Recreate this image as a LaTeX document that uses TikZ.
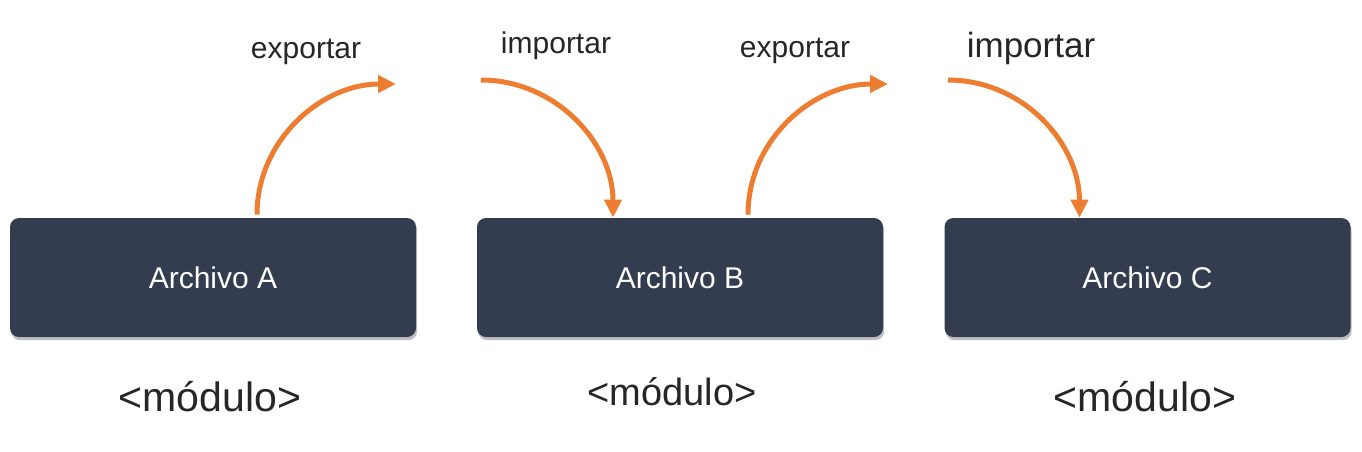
\documentclass[tikz,border=0pt]{standalone}
\usepackage{fontspec}
\setmainfont{Liberation Sans}
\usetikzlibrary{arrows.meta,shadows}
\definecolor{boxblue}{HTML}{333D4F}
\definecolor{arroworange}{HTML}{ED7D31}
\definecolor{labelgray}{HTML}{262626}
\tikzset{
	filebox/.style={rectangle, rounded corners=4.5pt, fill=boxblue, text=white,
		minimum width=203pt, minimum height=59.5pt, font=\fontsize{15}{18}\selectfont,
		drop shadow={shadow xshift=0.6pt, shadow yshift=-1.6pt, fill=black, opacity=0.25}},
	steplabel/.style={text=labelgray, inner sep=0pt, font=\fontsize{15}{18}\selectfont},
	modlabel/.style={text=labelgray, inner sep=0pt, font=\fontsize{20.5}{24}\selectfont},
	flow/.style={draw=arroworange, line width=2.5pt, -{Triangle[length=9pt,width=8.5pt]}}
}
\begin{document}
\begin{tikzpicture}[x=0.5pt,y=-0.5pt]
	\useasboundingbox (0,0) rectangle (1362,451);
	%files
	\node[filebox] (fileA) at (213,277.5){Archivo A};
	\node[filebox] (fileB) at (680,277.5){Archivo B};
	\node[filebox] (fileC) at (1147.5,277.5){Archivo C};
	
	%module labels
	\node[modlabel] (modA) at (210,397){<módulo>};
	\node[modlabel, font=\fontsize{19}{22}\selectfont] (modB) at (672,392){<módulo>};
	\node[modlabel] (modC) at (1145,397){<módulo>};
	
	%step labels
	\node[steplabel] (lblExpA) at (306,52){exportar};
	\node[steplabel] (lblImpB) at (556,46){importar};
	\node[steplabel] (lblExpB) at (795,51){exportar};
	\node[steplabel, font=\fontsize{17.5}{20}\selectfont] (lblImpC) at (1031,48){importar};
	
	%free arrow ends
	\coordinate (expA) at (396,84);
	\coordinate (impB) at (481,80);
	\coordinate (expB) at (888,84);
	\coordinate (impC) at (948,80);
	
	\draw[flow] ([xshift=22pt,yshift=1.5pt]fileA.north) to[out=90,in=180] (expA);
	\draw[flow] (impB) to[out=0,in=90] ([xshift=-33.5pt]fileB.north);
	\draw[flow] ([xshift=34pt,yshift=1.5pt]fileB.north) to[out=90,in=180] (expB);
	\draw[flow] (impC) to[out=0,in=90] ([xshift=-34pt]fileC.north);
\end{tikzpicture}
\end{document}
